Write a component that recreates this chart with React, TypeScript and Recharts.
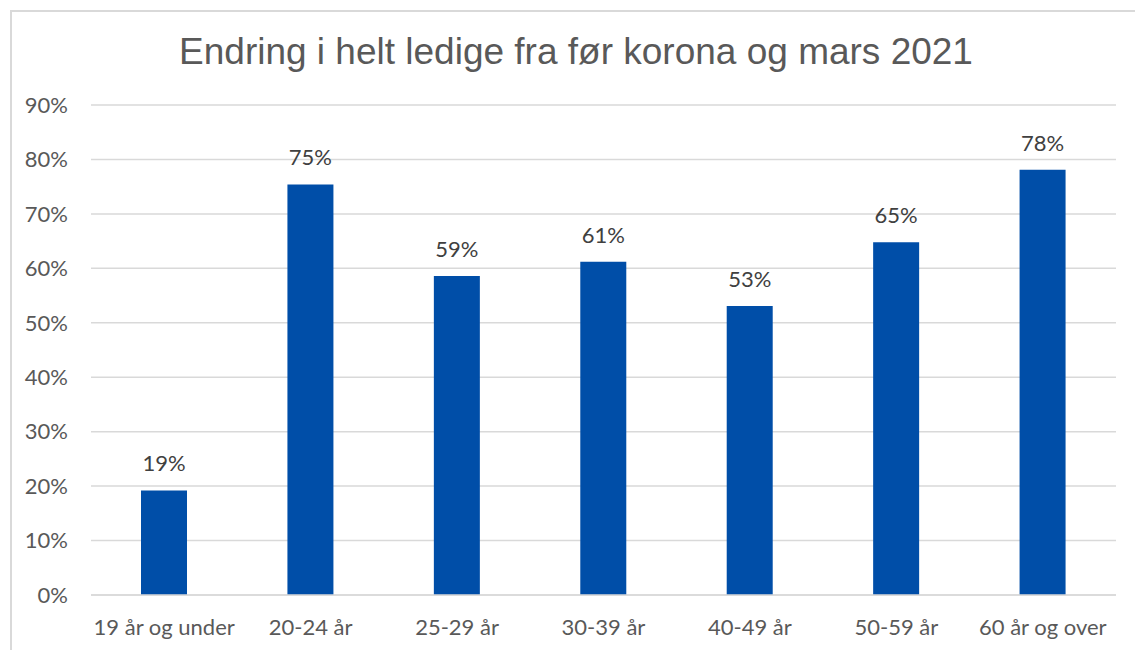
import React from "react";
import { BarChart, Bar, XAxis, YAxis, CartesianGrid, LabelList } from "recharts";

const categories = ["19 år og under", "20-24 år", "25-29 år", "30-39 år", "40-49 år", "50-59 år", "60 år og over"];
const values = [19.2, 75.4, 58.6, 61.2, 53.1, 64.8, 78.1];
const yTicks = [0, 10, 20, 30, 40, 50, 60, 70, 80, 90];
const title = "Endring i helt ledige fra før korona og mars 2021";

const data = categories.map((c, i) => ({ name: c, value: values[i] }));

const FONT = "Lato, 'Open Sans', sans-serif";

export default function App() {
  return (
    <div style={{ position: "fixed", left: 0, top: 0, width: 1135, height: 650, overflow: "hidden", background: "#fff" }}>
      <div style={{ position: "absolute", left: 10, top: 10, width: 1140, height: 660, borderLeft: "2px solid #D9D9D9", borderTop: "2px solid #D9D9D9", boxSizing: "border-box" }} />
      <div style={{ position: "absolute", left: 176, top: 33, width: 800, textAlign: "center", fontFamily: "'Liberation Sans', Arial, sans-serif", fontSize: 37, lineHeight: "37px", color: "#595959", whiteSpace: "nowrap" }}>
        {title}
      </div>
      <div style={{ position: "absolute", left: 0, top: 0 }}>
        <BarChart width={1135} height={650} data={data} margin={{ top: 105, right: 19, bottom: 25, left: 0 }} barSize={46}>
          <CartesianGrid vertical={false} stroke="#D9D9D9" strokeWidth={1.5} />
          <XAxis dataKey="name" axisLine={{ stroke: "#D9D9D9", strokeWidth: 1.5 }} tickLine={false} tickSize={0} tickMargin={24} height={30}
            tick={{ fill: "#595959", fontSize: 22, fontFamily: FONT }} interval={0} />
          <YAxis domain={[0, 90]} ticks={yTicks} axisLine={false} tickLine={false} tickSize={0} tickMargin={23} width={91}
            tickFormatter={(v: number) => `${v}%`} tick={{ fill: "#595959", fontSize: 22, fontFamily: FONT }} />
          <Bar dataKey="value" fill="#004EA8" isAnimationActive={false}>
            <LabelList dataKey="value" position="top" offset={19} formatter={(v: number) => `${Math.round(v)}%`}
              style={{ fill: "#404040", fontSize: 22, fontFamily: FONT }} />
          </Bar>
        </BarChart>
      </div>
    </div>
  );
}
